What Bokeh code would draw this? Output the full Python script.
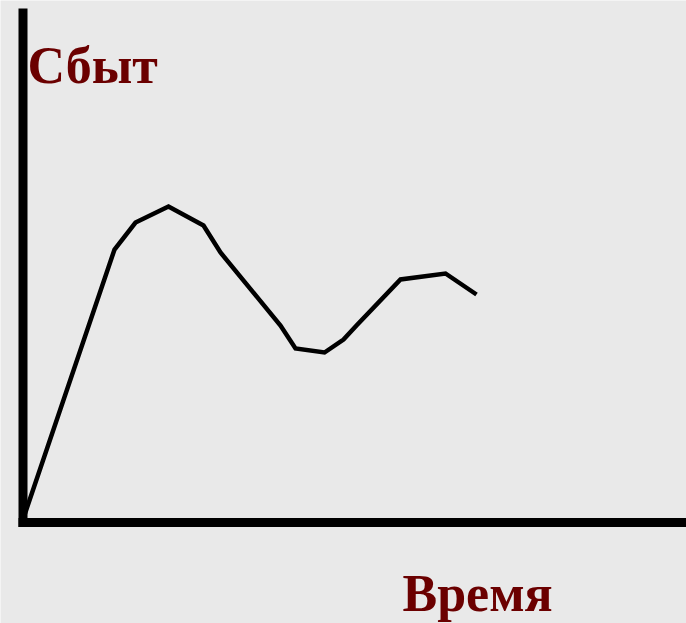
from bokeh.plotting import figure
from bokeh.models import Range1d, Label
from bokeh.embed import file_html
from bokeh.resources import INLINE

# Data (time in arbitrary units, sales in arbitrary units)
time = [0.0, 9.15, 11.25, 14.55, 18.05, 19.75, 25.75, 27.25, 30.15, 32.05, 33.35, 37.75, 42.25, 45.35]
sales = [0.3, 27.3, 30.0, 31.6, 29.7, 27.0, 19.7, 17.4, 17.0, 18.3, 19.7, 24.3, 24.9, 22.8]

y_label = "Сбыт"
x_label = "Время"

BG = "#e9e9e9"
LABEL_COLOR = "#6b0000"

X_MIN, X_MAX = -2.25, 66.35
Y_MIN, Y_MAX = -10.1, 52.2
AXIS_TOP = 51.4
AXIS_HALF = 0.45

p = figure(width=686, height=623, output_backend="svg", toolbar_location=None,
           x_range=Range1d(X_MIN, X_MAX), y_range=Range1d(Y_MIN, Y_MAX),
           min_border=0)
p.background_fill_color = BG
p.border_fill_color = BG
p.outline_line_color = None
p.grid.visible = False
p.axis.visible = False

# axis lines drawn at the origin
p.segment(x0=[0, -AXIS_HALF], y0=[-AXIS_HALF, 0], x1=[0, X_MAX], y1=[AXIS_TOP, 0],
          line_color="black", line_width=9, line_cap="butt")

p.line(time, sales, line_color="black", line_width=4.5, line_join="miter")

p.add_layout(Label(x=0.45, y=45.7, text=y_label, text_font="Liberation Serif",
                   text_font_style="bold", text_font_size="52px", text_color=LABEL_COLOR,
                   text_baseline="alphabetic", text_align="left"))
p.add_layout(Label(x=37.95, y=-7.1, text=x_label, text_font="Liberation Serif",
                   text_font_style="bold", text_font_size="52px", text_color=LABEL_COLOR,
                   text_baseline="alphabetic", text_align="left"))

open("out.html", "w").write(file_html(p, INLINE))
